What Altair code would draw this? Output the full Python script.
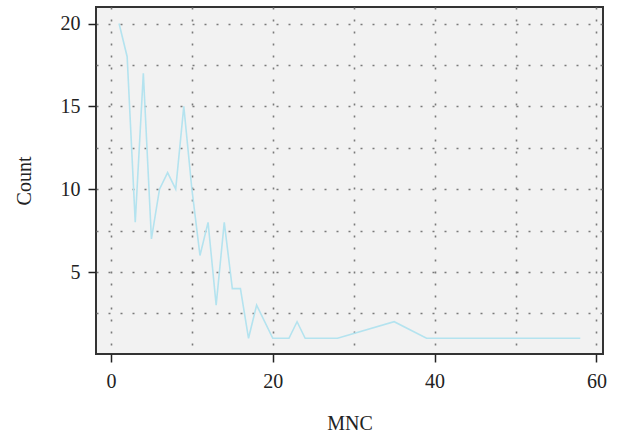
import altair as alt
import pandas as pd

mnc = [1, 2, 3, 4, 5, 6, 7, 8, 9, 10, 11, 12, 13, 14, 15, 16, 17, 18, 20, 22, 23, 24, 28, 35, 39, 58]
count = [20, 18, 8, 17, 7, 10, 11, 10, 15, 10, 6, 8, 3, 8, 4, 4, 1, 3, 1, 1, 2, 1, 1, 2, 1, 1]

x_grid = [0, 10, 20, 30, 40, 50, 60]
y_grid = [2.5, 5, 7.5, 10, 12.5, 15, 17.5, 20]

df = pd.DataFrame({"MNC": mnc, "Count": count})

FONT = "Liberation Serif"

x_axis = alt.Axis(
    values=x_grid,
    title="MNC",
    grid=True,
    gridColor="#7a7a7a",
    gridDash=[2, 10],
    gridWidth=1.6,
    domain=False,
    ticks=True,
    tickColor="#222222",
    tickWidth=1.5,
    tickSize=8,
    tickOpacity={"condition": {"test": "datum.value % 20 == 0", "value": 1}, "value": 0},
    labelExpr="datum.value % 20 == 0 ? datum.label : ''",
    labelFont=FONT,
    labelFontSize=20,
    labelColor="#222222",
    labelPadding=9,
    labelFlush=False,
    labelOverlap=False,
    titleFont=FONT,
    titleFontSize=20,
    titleFontWeight="normal",
    titleColor="#222222",
    titleBaseline="alphabetic",
    titleY=75,
)

y_axis = alt.Axis(
    values=y_grid,
    title="Count",
    grid=True,
    gridColor="#7a7a7a",
    gridDash=[2, 10],
    gridWidth=1.6,
    domain=False,
    ticks=True,
    tickColor="#222222",
    tickWidth=1.5,
    tickSize=8,
    tickOpacity={"condition": {"test": "datum.value % 5 == 0", "value": 1}, "value": 0},
    labelExpr="datum.value % 5 == 0 ? datum.label : ''",
    labelFont=FONT,
    labelFontSize=20,
    labelColor="#222222",
    labelPadding=8,
    labelFlush=False,
    labelOverlap=False,
    titleFont=FONT,
    titleFontSize=20,
    titleFontWeight="normal",
    titleColor="#222222",
    titleBaseline="alphabetic",
    titleX=-66,
)

chart = (
    alt.Chart(df)
    .mark_line(color="#b4e3ef", strokeWidth=1.6)
    .encode(
        x=alt.X("MNC:Q", scale=alt.Scale(domain=[-1.85, 60.81], nice=False, zero=False), axis=x_axis),
        y=alt.Y("Count:Q", scale=alt.Scale(domain=[0.05, 21.0], nice=False, zero=False), axis=y_axis),
    )
    .properties(
        width=507,
        height=347,
        autosize=alt.AutoSizeParams(type="none"),
        padding={"left": 96, "top": 7, "right": 17, "bottom": 80},
        background="white",
    )
    .configure_view(fill="#f2f2f2", stroke="#333333", strokeWidth=2)
)

chart.save("out.html", embed_options={"renderer": "svg", "actions": False})
